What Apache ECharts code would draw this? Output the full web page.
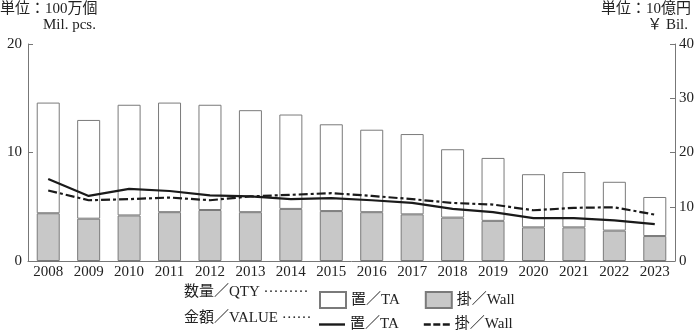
<!DOCTYPE html>
<html><head><meta charset="utf-8">
<script src="https://cdn.jsdelivr.net/npm/echarts@6/dist/echarts.min.js"></script>
<style>html,body{margin:0;padding:0;background:#fff}#c{width:700px;height:331px}</style>
</head><body><div id="c"></div>
<script>
var years = ['2008','2009','2010','2011','2012','2013','2014','2015','2016','2017','2018','2019','2020','2021','2022','2023'];
var qtyWall = [4.4,3.9,4.2,4.5,4.7,4.5,4.8,4.6,4.5,4.3,4.0,3.7,3.1,3.1,2.8,2.3];
var qtyTA = [10.2,9.1,10.2,10.1,9.7,9.4,8.7,8.0,7.6,7.4,6.3,5.8,4.9,5.1,4.5,3.6];
var valueTA = [15.1,12.0,13.3,12.9,12.1,11.9,11.4,11.6,11.2,10.7,9.6,9.0,7.9,7.9,7.5,6.8];
var valueWall = [13.0,11.2,11.4,11.7,11.2,11.9,12.2,12.5,12.0,11.4,10.7,10.4,9.35,9.8,9.9,8.55];
var leftTicks = [0,10,20];
var rightTicks = [0,10,20,30,40];

var FONT = "'Liberation Serif','Noto Sans CJK JP',serif";
var TXT = '#222';
var AX = '#777';
var chart = echarts.init(document.getElementById('c'), null, {renderer:'canvas'});
var fmt = function(n){ return n.split(' ')[1]; };
chart.setOption({
  animation:false,
  textStyle:{fontFamily:FONT,color:TXT},
  grid:{left:28,right:25,top:44,bottom:70},
  legend:[{
    data:[{name:'QTY 置／TA',icon:'rect'},{name:'QTY 掛／Wall',icon:'rect'}],
    left:314, top:286, itemWidth:26, itemHeight:16, itemGap:25,
    formatter:fmt, textStyle:{fontFamily:FONT,fontSize:15,color:TXT}
  },{
    data:[{name:'VALUE 置／TA',icon:'path://M0,0H26V2.4H0Z'},
          {name:'VALUE 掛／Wall',icon:'path://M0,0H7V2.4H0ZM9.5,0H16.5V2.4H9.5ZM19,0H26V2.4H19Z'}],
    left:314, top:312, itemWidth:26, itemHeight:2.4, itemGap:25,
    itemStyle:{color:'#1a1a1a',borderWidth:0},
    formatter:fmt, textStyle:{fontFamily:FONT,fontSize:15,color:TXT}
  }],
  graphic:[
    {type:'text',left:0,top:2,style:{text:'単位：100万個',font:"15px "+FONT,fill:TXT}},
    {type:'text',left:43,top:18,style:{text:'Mil. pcs.',font:"15px "+FONT,fill:TXT}},
    {type:'text',right:9,top:2,style:{text:'単位：10億円',font:"15px "+FONT,fill:TXT}},
    {type:'text',right:12,top:18,style:{text:'￥ Bil.',font:"15px "+FONT,fill:TXT}},
    {type:'text',left:184,top:285,style:{text:'数量／QTY ·········',font:"15px "+FONT,fill:TXT}},
    {type:'text',left:184,top:311,style:{text:'金額／VALUE ······',font:"15px "+FONT,fill:TXT}}
  ],
  xAxis:{type:'category',data:years,
    axisLine:{lineStyle:{color:AX,width:1}},axisTick:{show:false},
    axisLabel:{fontFamily:FONT,fontSize:15,color:TXT,margin:4}},
  yAxis:[{type:'value',min:leftTicks[0],max:leftTicks[leftTicks.length-1],interval:10,
    axisLine:{show:true,lineStyle:{color:AX}},axisTick:{show:true,inside:true,length:5,lineStyle:{color:AX}},
    splitLine:{show:false},axisLabel:{fontFamily:FONT,fontSize:15,color:TXT,margin:6}},
   {type:'value',min:rightTicks[0],max:rightTicks[rightTicks.length-1],interval:10,position:'right',
    axisLine:{show:true,lineStyle:{color:AX}},axisTick:{show:true,inside:true,length:5,lineStyle:{color:AX}},
    splitLine:{show:false},axisLabel:{fontFamily:FONT,fontSize:15,color:TXT,margin:4}}],
  series:[
    {name:'QTY 掛／Wall',type:'bar',stack:'q',data:qtyWall,barWidth:23,
      itemStyle:{color:'#c8c8c8',borderColor:'#7a7a7a',borderWidth:1}},
    {name:'QTY 置／TA',type:'bar',stack:'q',data:qtyTA,barWidth:23,
      itemStyle:{color:'#ffffff',borderColor:'#7a7a7a',borderWidth:1}},
    {name:'VALUE 置／TA',type:'line',yAxisIndex:1,data:valueTA,symbol:'none',z:5,
      lineStyle:{color:'#1a1a1a',width:2.2},itemStyle:{color:'#1a1a1a'}},
    {name:'VALUE 掛／Wall',type:'line',yAxisIndex:1,data:valueWall,symbol:'none',z:5,
      lineStyle:{color:'#1a1a1a',width:2.2,type:[9,3,3,3]},itemStyle:{color:'#1a1a1a'}}
  ]
});
</script></body></html>
